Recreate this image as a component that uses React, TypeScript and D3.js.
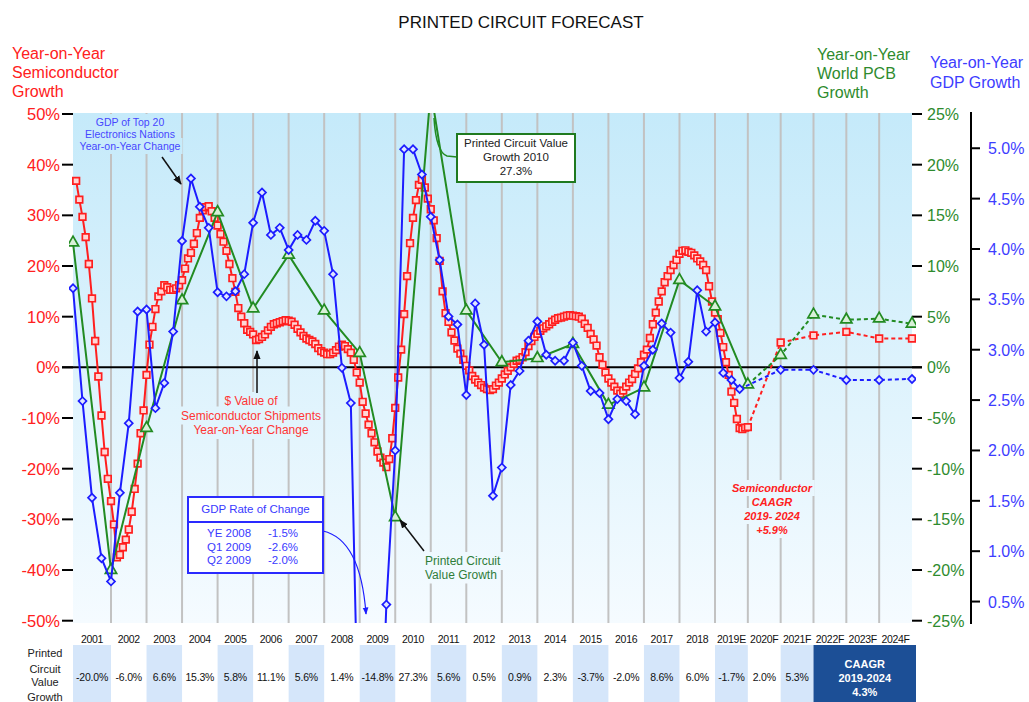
import React, { useEffect, useRef } from "react"
import * as d3 from "d3"

const FONT = "'Liberation Sans', Arial, Helvetica, sans-serif"

// column labels under the plot
const yearLabels = ["2001", "2002", "2003", "2004", "2005", "2006", "2007", "2008", "2009", "2010", "2011", "2012",
    "2013", "2014", "2015", "2016", "2017", "2018", "2019E", "2020F", "2021F", "2022F", "2023F", "2024F"]

// "Printed Circuit Value Growth" row of the table, 2001 - 2021F
const pcbTableValues = ["-20.0%", "-6.0%", "6.6%", "15.3%", "5.8%", "11.1%", "5.6%", "1.4%", "-14.8%", "27.3%", "5.6%",
    "0.5%", "0.9%", "2.3%", "-3.7%", "-2.0%", "8.6%", "6.0%", "-1.7%", "2.0%", "5.3%"]

// $ value of semiconductor shipments, year-on-year %, monthly Jan 2001 - Dec 2019
const semiMonthly = [
    36.8, 33.1, 29.7, 25.7, 20.4, 13.6, 5.2, -1.8, -9.5, -16.7, -22.0, -26.4,
    -31.0, -37.5, -37.0, -35.5, -34.0, -32.0, -28.5, -24.0, -19.0, -13.0, -8.5, -1.5,
    4.5, 8.0, 11.5, 14.0, 15.0, 16.2, 15.8, 15.3, 15.3, 15.6, 16.2, 17.2,
    19.5, 21.5, 22.6, 24.4, 26.5, 29.5, 31.0, 31.6, 31.8, 30.8, 29.5, 28.0,
    26.3, 24.8, 23.0, 20.4, 17.6, 14.9, 11.7, 10.0, 8.7, 7.4, 7.0, 6.5,
    5.4, 5.6, 6.0, 6.5, 7.3, 8.0, 8.5, 8.7, 8.9, 9.1, 9.3, 9.2,
    9.0, 8.4, 7.6, 6.9, 6.2, 5.7, 5.4, 5.1, 4.6, 3.8, 3.2, 2.9,
    2.6, 2.6, 2.9, 3.4, 4.1, 4.5, 4.2, 3.6, 2.9, 1.5, -1.0, -3.0,
    -6.8, -9.1, -11.3, -13.0, -14.8, -16.6, -17.8, -18.8, -19.7, -18.1, -14.0, -8.0,
    -2.0, 3.5, 10.5, 18.0, 24.5, 29.5, 33.0, 36.0, 37.0, 35.5, 33.3, 31.2,
    29.0, 25.5, 21.0, 15.0, 10.7, 9.0, 6.9, 5.3, 3.7, 2.7, 1.5, 0.3,
    -0.6, -1.7, -2.4, -3.0, -3.5, -4.0, -4.3, -4.5, -4.3, -3.6, -3.0, -2.2,
    -1.4, -0.7, 0.0, 0.7, 1.3, 1.5, 2.0, 3.0, 4.2, 5.2, 6.0, 6.6,
    7.2, 7.7, 8.1, 8.5, 9.0, 9.4, 9.7, 9.8, 10.0, 10.2, 10.3, 10.2,
    10.1, 10.0, 9.6, 8.6, 7.8, 6.6, 5.5, 4.3, 2.0, 0.5, -1.0, -2.2,
    -3.0, -3.8, -4.6, -5.2, -4.6, -3.8, -3.0, -2.3, -1.3, -0.2, 1.0, 2.5,
    3.5, 5.8, 8.5, 10.8, 13.0, 15.0, 16.8, 18.0, 19.2, 20.2, 21.2, 22.4,
    23.0, 23.1, 22.8, 22.6, 22.1, 21.5, 20.9, 20.2, 19.2, 16.0, 13.0, 10.8,
    9.5, 6.8, 4.0, 1.0, -1.5, -4.8, -7.0, -10.2, -12.0, -12.2, -11.9, -11.8,
]
// 2020F - 2024F
const semiForecast = [4.9, 6.3, 7.0, 5.7, 5.7]

// world PCB growth, annual 2000 - 2019E
const pcbAnnual = [12.3, -20.0, -6.0, 6.6, 15.3, 5.8, 11.1, 5.6, 1.4, -14.8, 27.3, 5.6, 0.5, 0.9, 2.3, -3.7, -2.0, 8.6, 6.0, -1.7]
// 2020F - 2024F
const pcbForecast = [1.2, 5.2, 4.7, 4.8, 4.3]

// GDP of top 20 electronics nations, year-on-year %, quarterly 2000Q4 - 2019Q3
const gdpQuarterly = [
    3.61,
    2.49, 1.53, 0.93, 0.70,
    1.58, 2.27, 3.38, 3.40,
    2.42, 2.67, 3.18, 4.08,
    4.70, 4.42, 4.21, 3.57,
    3.53, 3.58, 3.75, 4.26,
    4.56, 4.14, 4.21, 3.99,
    4.14, 4.09, 4.28, 4.18,
    3.75, 2.82, 2.47, -1.5,
    -2.6, -2.0, 0.47, 2.0,
    4.99, 4.99, 4.74, 4.32,
    3.89, 3.33, 3.25, 2.55,
    3.46, 3.05, 1.55, 1.83,
    2.65, 2.79, 3.09, 3.28,
    2.95, 2.89, 2.89, 3.07,
    2.84, 2.59, 2.57, 2.31,
    2.51, 2.49, 2.36, 2.84,
    3.00, 3.26, 3.17, 2.72,
    2.88, 3.59, 3.18, 3.27,
    2.77, 2.70, 2.61,
]
// 2020F - 2024F
const gdpForecast = [2.80, 2.80, 2.70, 2.70, 2.71]

const gdpBoxRows = [["YE 2008", "-1.5%"], ["Q1 2009", "-2.6%"], ["Q2 2009", "-2.0%"]]

const semiTicks = [-50, -40, -30, -20, -10, 0, 10, 20, 30, 40, 50]
const pcbTicks = [-25, -20, -15, -10, -5, 0, 5, 10, 15, 20, 25]
const gdpTicks = [0.5, 1.0, 1.5, 2.0, 2.5, 3.0, 3.5, 4.0, 4.5, 5.0]

const RED = "#ff1f1f"
const GREEN = "#228b22"
const BLUE = "#1c1cff"

export default function App() {
    const svgRef = useRef<SVGSVGElement>(null)

    useEffect(() => {
        if (!svgRef.current) return
        const svg = d3.select(svgRef.current)
        svg.selectAll("*").remove()

        const plot = { l: 73, r: 912, t: 113, b: 623 }
        const x = d3.scaleLinear().domain([2001, 2002, 2019, 2025]).range([73, 111, 715, 912])
        const ySemi = d3.scaleLinear().domain([-50, 50]).range([620.7, 114])
        const yPcb = d3.scaleLinear().domain([-25, 25]).range([620.7, 114])
        const yGdp = d3.scaleLinear().domain([0.31, 5.34]).range([620.7, 114])

        const defs = svg.append("defs")
        const grad = defs.append("linearGradient").attr("id", "plotBg")
            .attr("gradientUnits", "userSpaceOnUse")
            .attr("x1", 0).attr("y1", plot.t).attr("x2", 0).attr("y2", plot.b)
        grad.append("stop").attr("offset", 0).attr("stop-color", "#c5eafa")
        grad.append("stop").attr("offset", 1).attr("stop-color", "#f5fbff")
        defs.append("clipPath").attr("id", "plotClip").append("rect")
            .attr("x", plot.l - 4).attr("y", plot.t).attr("width", plot.r - plot.l + 8).attr("height", plot.b - plot.t)
        const arrowHead = (id: string, color: string) => defs.append("marker").attr("id", id)
            .attr("viewBox", "0 0 10 10").attr("refX", 9).attr("refY", 5)
            .attr("markerWidth", 6).attr("markerHeight", 6).attr("orient", "auto")
            .append("path").attr("d", "M0,1 L10,5 L0,9 Z").attr("fill", color)
        arrowHead("arrowBlack", "#111")
        arrowHead("arrowBlue", BLUE)

        const text = (g: any, t: string, px: number, py: number, size: number, color: string, anchor = "start") =>
            g.append("text").attr("x", px).attr("y", py).attr("font-size", size).attr("fill", color)
                .attr("text-anchor", anchor).attr("font-family", FONT).text(t)

        // title + axis headers
        text(svg, "PRINTED CIRCUIT FORECAST", 521, 28, 17, "#111", "middle")
        ;["Year-on-Year", "Semiconductor", "Growth"].forEach((t, i) => text(svg, t, 12, 59 + i * 19, 16, "#ff2020"))
        ;["Year-on-Year", "World PCB", "Growth"].forEach((t, i) => text(svg, t, 817, 60 + i * 19, 16, "#2e8b2e"))
        ;["Year-on-Year", "GDP Growth"].forEach((t, i) => text(svg, t, 930, 68 + i * 20, 16, "#3d3dff"))

        // plot background and gridlines
        svg.append("rect").attr("x", plot.l).attr("y", plot.t).attr("width", plot.r - plot.l)
            .attr("height", plot.b - plot.t).attr("fill", "url(#plotBg)")
        svg.append("g").selectAll("line").data(d3.range(2002, 2025)).join("line")
            .attr("x1", d => x(d)).attr("x2", d => x(d)).attr("y1", plot.t).attr("y2", plot.b)
            .attr("stroke", "#c2c2c2").attr("stroke-width", 2)

        // annotation text that hides gridlines behind it
        const note = (lines: string[], cx: number, y0: number, dy: number, size: number, color: string, anchor = "middle", bold = false) => {
            const g = svg.append("g")
            lines.forEach((t, i) => {
                const el = text(g, t, cx, y0 + i * dy, size, color, anchor)
                if (bold) el.attr("font-weight", "bold").attr("font-style", "italic")
                const bb = (el.node() as SVGTextElement).getBBox()
                g.insert("rect", "text").attr("x", bb.x - 2).attr("y", bb.y - 2)
                    .attr("width", bb.width + 4).attr("height", bb.height + 4).attr("fill", "url(#plotBg)")
            })
        }
        note(["GDP of Top 20", "Electronics Nations", "Year-on-Year Change"], 130, 126, 12, 10.5, "#4646ff")
        note(["$ Value of", "Semiconductor Shipments", "Year-on-Year Change"], 251, 405, 14.5, 12, "#ff3434")
        note(["Semiconductor", "CAAGR", "2019- 2024", "+5.9%"], 772, 492, 14, 11, "#ff2020", "middle", true)
        note(["Printed Circuit", "Value Growth"], 425, 565, 13.5, 12, "#2f7d3a", "start")

        // zero line and axes
        svg.append("line").attr("x1", 62).attr("x2", 922).attr("y1", ySemi(0)).attr("y2", ySemi(0))
            .attr("stroke", "#000").attr("stroke-width", 2)
        semiTicks.forEach(v => {
            svg.append("line").attr("x1", 62).attr("x2", plot.l).attr("y1", ySemi(v)).attr("y2", ySemi(v))
                .attr("stroke", "#000").attr("stroke-width", 2)
            text(svg, `${v}%`, 60, ySemi(v) + 6, 16.5, "#ff2020", "end")
        })
        pcbTicks.forEach(v => {
            svg.append("line").attr("x1", plot.r).attr("x2", 922).attr("y1", yPcb(v)).attr("y2", yPcb(v))
                .attr("stroke", "#000").attr("stroke-width", 2)
            text(svg, `${v}%`, 927, yPcb(v) + 6, 16, "#2e8b2e")
        })
        svg.append("line").attr("x1", 971).attr("x2", 971).attr("y1", 112).attr("y2", 624)
            .attr("stroke", "#000").attr("stroke-width", 2)
        gdpTicks.forEach(v => {
            svg.append("line").attr("x1", 971).attr("x2", 980).attr("y1", yGdp(v)).attr("y2", yGdp(v))
                .attr("stroke", "#000").attr("stroke-width", 2)
            text(svg, `${v.toFixed(1)}%`, 988, yGdp(v) + 6, 16, "#3d3dff")
        })

        // series
        const series = svg.append("g").attr("clip-path", "url(#plotClip)")
        const drawLine = (pts: [number, number][], y: any, color: string, dashed: boolean) => {
            series.append("path").datum(pts)
                .attr("d", d3.line<[number, number]>().x(d => x(d[0])).y(d => y(d[1])))
                .attr("fill", "none").attr("stroke", color).attr("stroke-width", 2)
                .attr("stroke-dasharray", dashed ? "4,3" : null)
        }
        const drawMarks = (pts: [number, number][], y: any, type: any, size: number, color: string, fill: string, rot = 0) => {
            series.append("g").selectAll("path").data(pts).join("path")
                .attr("transform", d => `translate(${x(d[0])},${y(d[1])}) rotate(${rot})`)
                .attr("d", d3.symbol().type(type).size(size)())
                .attr("fill", fill).attr("stroke", color).attr("stroke-width", 1.7)
        }

        const semiPts = semiMonthly.map((v, i) => [2001 + (i + 1) / 12, v] as [number, number])
        const semiFc = [semiPts[semiPts.length - 1], ...semiForecast.map((v, i) => [2021 + i, v] as [number, number])]
        const pcbPts = pcbAnnual.map((v, i) => [2001 + i, v] as [number, number])
        const pcbFc = [pcbPts[pcbPts.length - 1], ...pcbForecast.map((v, i) => [2021 + i, v] as [number, number])]
        const gdpPts = gdpQuarterly.map((v, i) => [2001 + i / 4, v] as [number, number])
        const gdpFc = [gdpPts[gdpPts.length - 1], ...gdpForecast.map((v, i) => [2021 + i, v] as [number, number])]

        drawLine(semiPts, ySemi, RED, false)
        drawLine(semiFc, ySemi, RED, true)
        drawMarks(semiPts.concat(semiFc.slice(1)), ySemi, d3.symbolSquare, 44, RED, "#ffd6d6")
        drawLine(pcbPts, yPcb, GREEN, false)
        drawLine(pcbFc, yPcb, GREEN, true)
        drawMarks(pcbPts.concat(pcbFc.slice(1)), yPcb, d3.symbolTriangle, 55, GREEN, "#d8f0d8")
        drawLine(gdpPts, yGdp, BLUE, false)
        drawLine(gdpFc, yGdp, BLUE, true)
        drawMarks(gdpPts.concat(gdpFc.slice(1)), yGdp, d3.symbolSquare, 32, BLUE, "#dfe6ff", 45)

        // arrows
        svg.append("line").attr("x1", 162).attr("y1", 157).attr("x2", 181).attr("y2", 184)
            .attr("stroke", "#111").attr("stroke-width", 1.5).attr("marker-end", "url(#arrowBlack)")
        svg.append("line").attr("x1", 257).attr("y1", 393).attr("x2", 257).attr("y2", 351)
            .attr("stroke", "#111").attr("stroke-width", 1.5).attr("marker-end", "url(#arrowBlack)")
        svg.append("line").attr("x1", 424).attr("y1", 551).attr("x2", 400).attr("y2", 520)
            .attr("stroke", "#111").attr("stroke-width", 1.5).attr("marker-end", "url(#arrowBlack)")
        svg.append("path").attr("d", "M323,531 C345,536 362,560 366,614")
            .attr("fill", "none").attr("stroke", BLUE).attr("stroke-width", 1.2).attr("marker-end", "url(#arrowBlue)")

        // 2010 callout
        svg.append("path").attr("d", "M457,157 L447,156 Q436,152 434,118")
            .attr("fill", "none").attr("stroke", GREEN).attr("stroke-width", 1.5)
        svg.append("rect").attr("x", 457).attr("y", 134).attr("width", 118).attr("height", 48)
            .attr("fill", "#fff").attr("stroke", "#1f7a1f").attr("stroke-width", 2)
        ;["Printed Circuit Value", "Growth 2010", "27.3%"].forEach((t, i) => text(svg, t, 516, 147 + i * 14, 11.5, "#222", "middle"))

        // GDP rate of change box
        svg.append("rect").attr("x", 188).attr("y", 497).attr("width", 135).attr("height", 76)
            .attr("fill", "#fff").attr("stroke", "#2a2aff").attr("stroke-width", 2)
        svg.append("line").attr("x1", 188).attr("x2", 323).attr("y1", 522).attr("y2", 522)
            .attr("stroke", "#2a2aff").attr("stroke-width", 2)
        text(svg, "GDP Rate of Change", 255.5, 513, 11.5, "#3a3aff", "middle")
        gdpBoxRows.forEach((r, i) => {
            text(svg, r[0], 207, 537 + i * 13.5, 11.5, "#3a3aff")
            text(svg, r[1], 268, 537 + i * 13.5, 11.5, "#3a3aff")
        })

        // bottom table
        const colMid = (i: number) => (x(2001 + i) + x(2002 + i)) / 2
        yearLabels.forEach((lab, i) => text(svg, lab, colMid(i), 643, 10.5, "#111", "middle").attr("letter-spacing", -0.3))
        pcbTableValues.forEach((v, i) => {
            if (i % 2 === 0) {
                svg.append("rect").attr("x", x(2001 + i)).attr("y", 645).attr("width", x(2002 + i) - x(2001 + i))
                    .attr("height", 57).attr("fill", "#d5e6fa")
            }
            text(svg, v, colMid(i), 681, 10.5, "#111", "middle").attr("letter-spacing", -0.2)
        })
        ;["Printed", "Circuit", "Value", "Growth"].forEach((t, i) => text(svg, t, 45, [657, 673, 686, 701][i], 11, "#222", "middle"))
        svg.append("rect").attr("x", x(2022)).attr("y", 645).attr("width", 916 - x(2022)).attr("height", 57).attr("fill", "#1c4f96")
        ;["CAAGR", "2019-2024", "4.3%"].forEach((t, i) =>
            text(svg, t, (x(2022) + 916) / 2, 668 + i * 14, 11, "#fff", "middle").attr("font-weight", "bold"))
    }, [])

    return (
        <svg ref={svgRef} width={1029} height={702}
            style={{ position: "absolute", left: 0, top: 0, background: "#fff" }} />
    )
}
